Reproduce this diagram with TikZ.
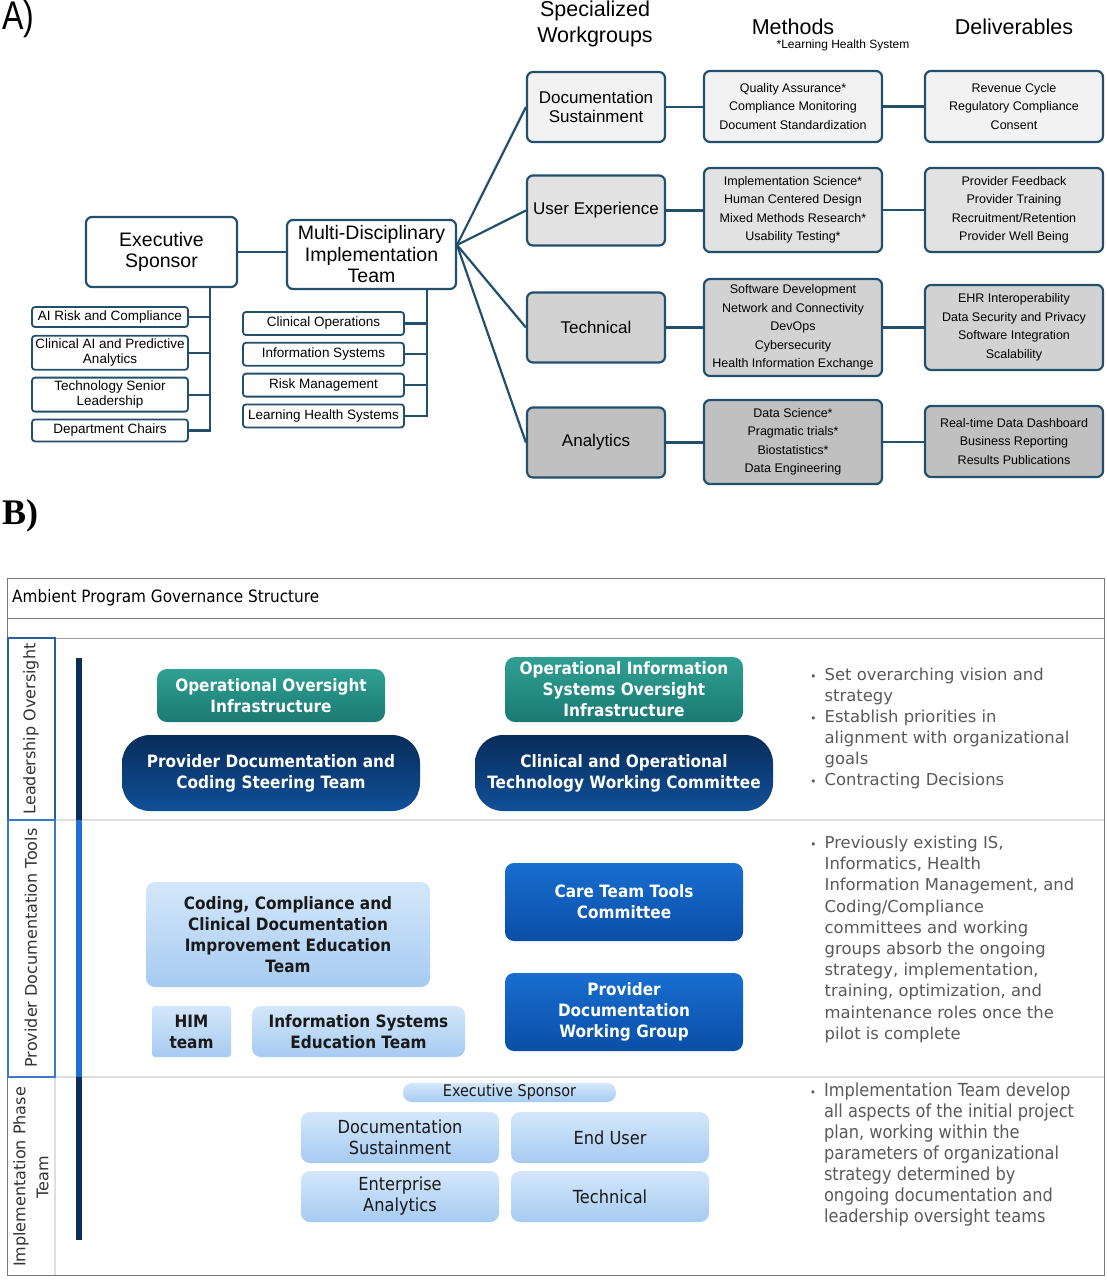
\documentclass[tikz,border=0pt]{standalone}
\usepackage{fontspec}
\setmainfont{Liberation Sans}
\newfontfamily\narrow[FakeStretch=0.8]{Liberation Sans}
\newfontfamily\dv{DejaVu Sans}
\newfontfamily\tah[FakeStretch=0.9]{DejaVu Sans}
\newfontfamily\serifb{Liberation Serif}
\usetikzlibrary{positioning}

\newcommand{\fsz}[2]{\fontsize{#1}{#2}\selectfont}
\newcommand{\bdot}{{\fsz{11}{11}\textbullet}}

\definecolor{lineA}{RGB}{33,79,108}
\definecolor{rowA}{RGB}{242,242,242}
\definecolor{rowB}{RGB}{226,226,226}
\definecolor{rowC}{RGB}{210,210,210}
\definecolor{rowD}{RGB}{192,192,192}
\definecolor{tealT}{RGB}{48,160,146}
\definecolor{tealB}{RGB}{26,122,116}
\definecolor{navyT}{RGB}{8,44,90}
\definecolor{navyB}{RGB}{16,80,152}
\definecolor{blueT}{RGB}{24,110,208}
\definecolor{blueB}{RGB}{10,78,166}
\definecolor{paleT}{RGB}{212,231,251}
\definecolor{paleB}{RGB}{166,203,241}
\definecolor{bulletgray}{RGB}{90,90,90}
\definecolor{frameB}{RGB}{120,120,120}
\definecolor{sepB}{RGB}{222,222,222}
\definecolor{barD}{RGB}{11,45,91}
\definecolor{barM}{RGB}{30,111,214}
\definecolor{cellL}{RGB}{46,92,150}
\definecolor{cellP}{RGB}{60,120,200}

\begin{document}
\begin{tikzpicture}[x=1pt,y=-1pt,
    abox/.style={draw=lineA, line width=2.2pt, rounded corners=6pt, align=center, inner sep=0pt},
    headbox/.style={abox, fill=white, font=\fsz{19.5}{21.5}},
    subbox/.style={abox, line width=1.8pt, rounded corners=3pt, fill=white, font=\fsz{13.5}{15}},
    wgbox/.style={abox, minimum width=138pt, minimum height=70pt, font=\fsz{17}{19}},
    mbox/.style={abox, minimum width=178pt, font=\fsz{12.5}{18.5}},
    link/.style={draw=lineA, line width=2.2pt},
    bbox/.style={rounded corners=9pt, align=center, inner sep=0pt, text=white, font=\tah\bfseries\fsz{17}{21}},
    tealbox/.style={bbox, top color=tealT, bottom color=tealB, rounded corners=10pt},
    navybox/.style={bbox, top color=navyT, bottom color=navyB, rounded corners=28pt},
    bluebox/.style={bbox, top color=blueT, bottom color=blueB},
    palebox/.style={bbox, top color=paleT, bottom color=paleB, text=black!90},
    implbox/.style={palebox, font=\tah\fsz{18}{21}, minimum width=198pt, minimum height=51pt},
    sidelabel/.style={rotate=90, align=center, font=\dv\fsz{16}{23}, text=black!80},
    bullets/.style={anchor=north west, inner sep=0pt, text=bulletgray},
]
    \fill[white] (0,0) rectangle (1107,1280);
    \useasboundingbox (0,0) rectangle (1107,1280);

    % ---------- A) ----------
    \node[font=\narrow\fsz{40}{40}, anchor=west, inner sep=0pt] (lblA) at (2,19) {A)};
    \node[font=\fsz{21.5}{26}, align=center] (hWG) at (595,24) {Specialized\\Workgroups};
    \node[font=\fsz{21.5}{26}] (hM) at (793,27) {Methods};
    \node[font=\fsz{12}{13}] (hLHS) at (843,45) {*Learning Health System};
    \node[font=\fsz{21.5}{26}] (hD) at (1014,27) {Deliverables};

    % nodes
    \node[headbox, minimum width=151pt, minimum height=70pt] (ES) at (161.5,252) {Executive\\Sponsor};
    \node[headbox, minimum width=169pt, minimum height=69pt] (MDIT) at (371.5,254.5) {Multi-Disciplinary\\Implementation\\Team};

    \node[subbox, minimum width=156pt, minimum height=20pt] (AIR) at (110,317) {AI Risk and Compliance};
    \node[subbox, minimum width=156pt, minimum height=34pt, below=7pt of AIR] (CAI) {Clinical AI and Predictive\\Analytics};
    \node[subbox, minimum width=156pt, minimum height=34pt, below=6pt of CAI] (TSL) {Technology Senior\\Leadership};
    \node[subbox, minimum width=156pt, minimum height=22pt, below=6pt of TSL] (DC) {Department Chairs};

    \node[subbox, minimum width=161pt, minimum height=23pt] (CO) at (323.5,323.5) {Clinical Operations};
    \node[subbox, minimum width=161pt, minimum height=23pt, below=6pt of CO] (ISY) {Information Systems};
    \node[subbox, minimum width=161pt, minimum height=23pt, below=6pt of ISY] (RM) {Risk Management};
    \node[subbox, minimum width=161pt, minimum height=23pt, below=6pt of RM] (LHS) {Learning Health Systems};

    \node[wgbox, fill=rowA] (DS) at (596,107) {Documentation\\Sustainment};
    \node[wgbox, fill=rowB] (UX) at (596,210.5) {User Experience};
    \node[wgbox, fill=rowC] (TE) at (596,327.5) {Technical};
    \node[wgbox, fill=rowD] (AN) at (596,442.5) {Analytics};

    \node[mbox, fill=rowA, minimum height=71pt] (M1) at (793,106.5) {Quality Assurance*\\Compliance Monitoring\\Document Standardization};
    \node[mbox, fill=rowB, minimum height=84pt] (M2) at (793,210) {Implementation Science*\\Human Centered Design\\Mixed Methods Research*\\Usability Testing*};
    \node[mbox, fill=rowC, minimum height=97pt] (M3) at (793,327.5) {Software Development\\Network and Connectivity\\DevOps\\Cybersecurity\\Health Information Exchange};
    \node[mbox, fill=rowD, minimum height=84pt] (M4) at (793,442) {Data Science*\\Pragmatic trials*\\Biostatistics*\\Data Engineering};

    \node[mbox, fill=rowA, minimum height=71pt] (D1) at (1014,106.5) {Revenue Cycle\\Regulatory Compliance\\Consent};
    \node[mbox, fill=rowB, minimum height=84pt] (D2) at (1014,210) {Provider Feedback\\Provider Training\\Recruitment/Retention\\Provider Well Being};
    \node[mbox, fill=rowC, minimum height=85pt] (D3) at (1014,327.5) {EHR Interoperability\\Data Security and Privacy\\Software Integration\\Scalability};
    \node[mbox, fill=rowD, minimum height=71pt] (D4) at (1014,441.5) {Real-time Data Dashboard\\Business Reporting\\Results Publications};

    % lines
    \coordinate (tA) at (210,0);
    \coordinate (tB) at (427,0);
    \coordinate (fan) at (457,245);
    \draw[link] (ES.east) -- (ES.east -| MDIT.west);
    \draw[link] (ES.south -| tA) |- (DC.east);
    \foreach \n in {AIR,CAI,TSL}
        \draw[link] (\n.east) -- (\n.east -| tA);
    \draw[link] (MDIT.south -| tB) |- (LHS.east);
    \foreach \n in {CO,ISY,RM}
        \draw[link] (\n.east) -- (\n.east -| tB);
    \foreach \n in {DS,UX,TE,AN}
        \draw[link] (fan) -- (\n.west);
    \foreach \a/\b in {DS/M1,UX/M2,TE/M3,AN/M4,M1/D1,M2/D2,M3/D3,M4/D4}
        \draw[link] (\a.east) -- (\a.east -| \b.west);

    % ---------- B) ----------
    \node[font=\serifb\bfseries\fsz{36}{38}, anchor=west, inner sep=0pt] (lblB) at (2,516) {B)};

    % frame and rows
    \draw[sepB, line width=2pt] (55,820) -- (1104,820);
    \draw[sepB, line width=2pt] (55,1077) -- (1104,1077);
    \draw[sepB, line width=1.5pt] (55,638) -- (55,1275);
    \draw[frameB, line width=1pt] (7,578) rectangle (1104,1275);
    \draw[frameB, line width=1pt] (7,618) -- (1104,618);
    \draw[frameB!70, line width=1pt] (7,638) -- (1104,638);
    \draw[cellL, line width=1.5pt] (8,638) rectangle (55,820);
    \draw[cellP, line width=1.5pt] (8,820) rectangle (55,1077);
    \node[font=\tah\fsz{17}{20}, anchor=west, inner sep=0pt] (title) at (12,598) {Ambient Program Governance Structure};

    \node[sidelabel] (sLO) at (31,729) {Leadership Oversight};
    \node[sidelabel] (sPD) at (31,948) {Provider Documentation Tools};
    \node[sidelabel] (sIP) at (31,1177) {Implementation Phase\\Team};

    \fill[barD] (76,658) rectangle (82,820);
    \fill[barM] (76,820) rectangle (82,1077);
    \fill[barD] (76,1077) rectangle (82,1240);

    % leadership oversight
    \node[tealbox, minimum width=228pt, minimum height=53pt] (OOI) at (271,695.5) {Operational Oversight\\Infrastructure};
    \node[tealbox, minimum width=238pt, minimum height=65pt] (OISO) at (624,689.5) {Operational Information\\Systems Oversight\\Infrastructure};
    \node[navybox, minimum width=298pt, minimum height=76pt] (PDCS) at (271,773) {Provider Documentation and\\Coding Steering Team};
    \node[navybox, minimum width=298pt, minimum height=76pt] (COTW) at (624,773) {Clinical and Operational\\Technology Working Committee};

    % provider documentation tools
    \node[palebox, minimum width=284pt, minimum height=105pt] (CCCD) at (288,934.5) {Coding, Compliance and\\Clinical Documentation\\Improvement Education\\Team};
    \node[palebox, rounded corners=3pt, minimum width=79pt, minimum height=51pt] (HIM) at (191.5,1031.5) {HIM\\team};
    \node[palebox, minimum width=213pt, minimum height=51pt] (ISE) at (358.5,1031.5) {Information Systems\\Education Team};
    \node[bluebox, minimum width=238pt, minimum height=78pt] (CTT) at (624,902) {Care Team Tools\\Committee};
    \node[bluebox, minimum width=238pt, minimum height=78pt] (PDWG) at (624,1012) {Provider\\Documentation\\Working Group};

    % implementation phase team
    \node[palebox, font=\tah\fsz{16}{18}, minimum width=213pt, minimum height=19pt] (iES) at (509.5,1092.5) {Executive Sponsor};
    \node[implbox] (iDS) at (400,1137.5) {Documentation\\Sustainment};
    \node[implbox] (iEU) at (610,1137.5) {End User};
    \node[implbox] (iEA) at (400,1196.5) {Enterprise\\Analytics};
    \node[implbox] (iTE) at (610,1196.5) {Technical};

    % bullet texts
    \node[bullets, font=\dv\fsz{16.4}{21}] (bLO) at (810,666) {%
        \begin{tabular}{@{}l@{\hspace{8pt}}l@{}}
        \bdot & Set overarching vision and\\
              & strategy\\
        \bdot & Establish priorities in\\
              & alignment with organizational\\
              & goals\\
        \bdot & Contracting Decisions
        \end{tabular}};
    \node[bullets, font=\dv\fsz{16.4}{21.2}] (bPD) at (810,833.5) {%
        \begin{tabular}{@{}l@{\hspace{8pt}}l@{}}
        \bdot & Previously existing IS,\\
              & Informatics, Health\\
              & Information Management, and\\
              & Coding/Compliance\\
              & committees and working\\
              & groups absorb the ongoing\\
              & strategy, implementation,\\
              & training, optimization, and\\
              & maintenance roles once the\\
              & pilot is complete
        \end{tabular}};
    \node[bullets, font=\tah\fsz{18}{21}] (bIP) at (810,1081.5) {%
        \begin{tabular}{@{}l@{\hspace{8pt}}l@{}}
        \bdot & Implementation Team develop\\
              & all aspects of the initial project\\
              & plan, working within the\\
              & parameters of organizational\\
              & strategy determined by\\
              & ongoing documentation and\\
              & leadership oversight teams
        \end{tabular}};
\end{tikzpicture}
\end{document}
